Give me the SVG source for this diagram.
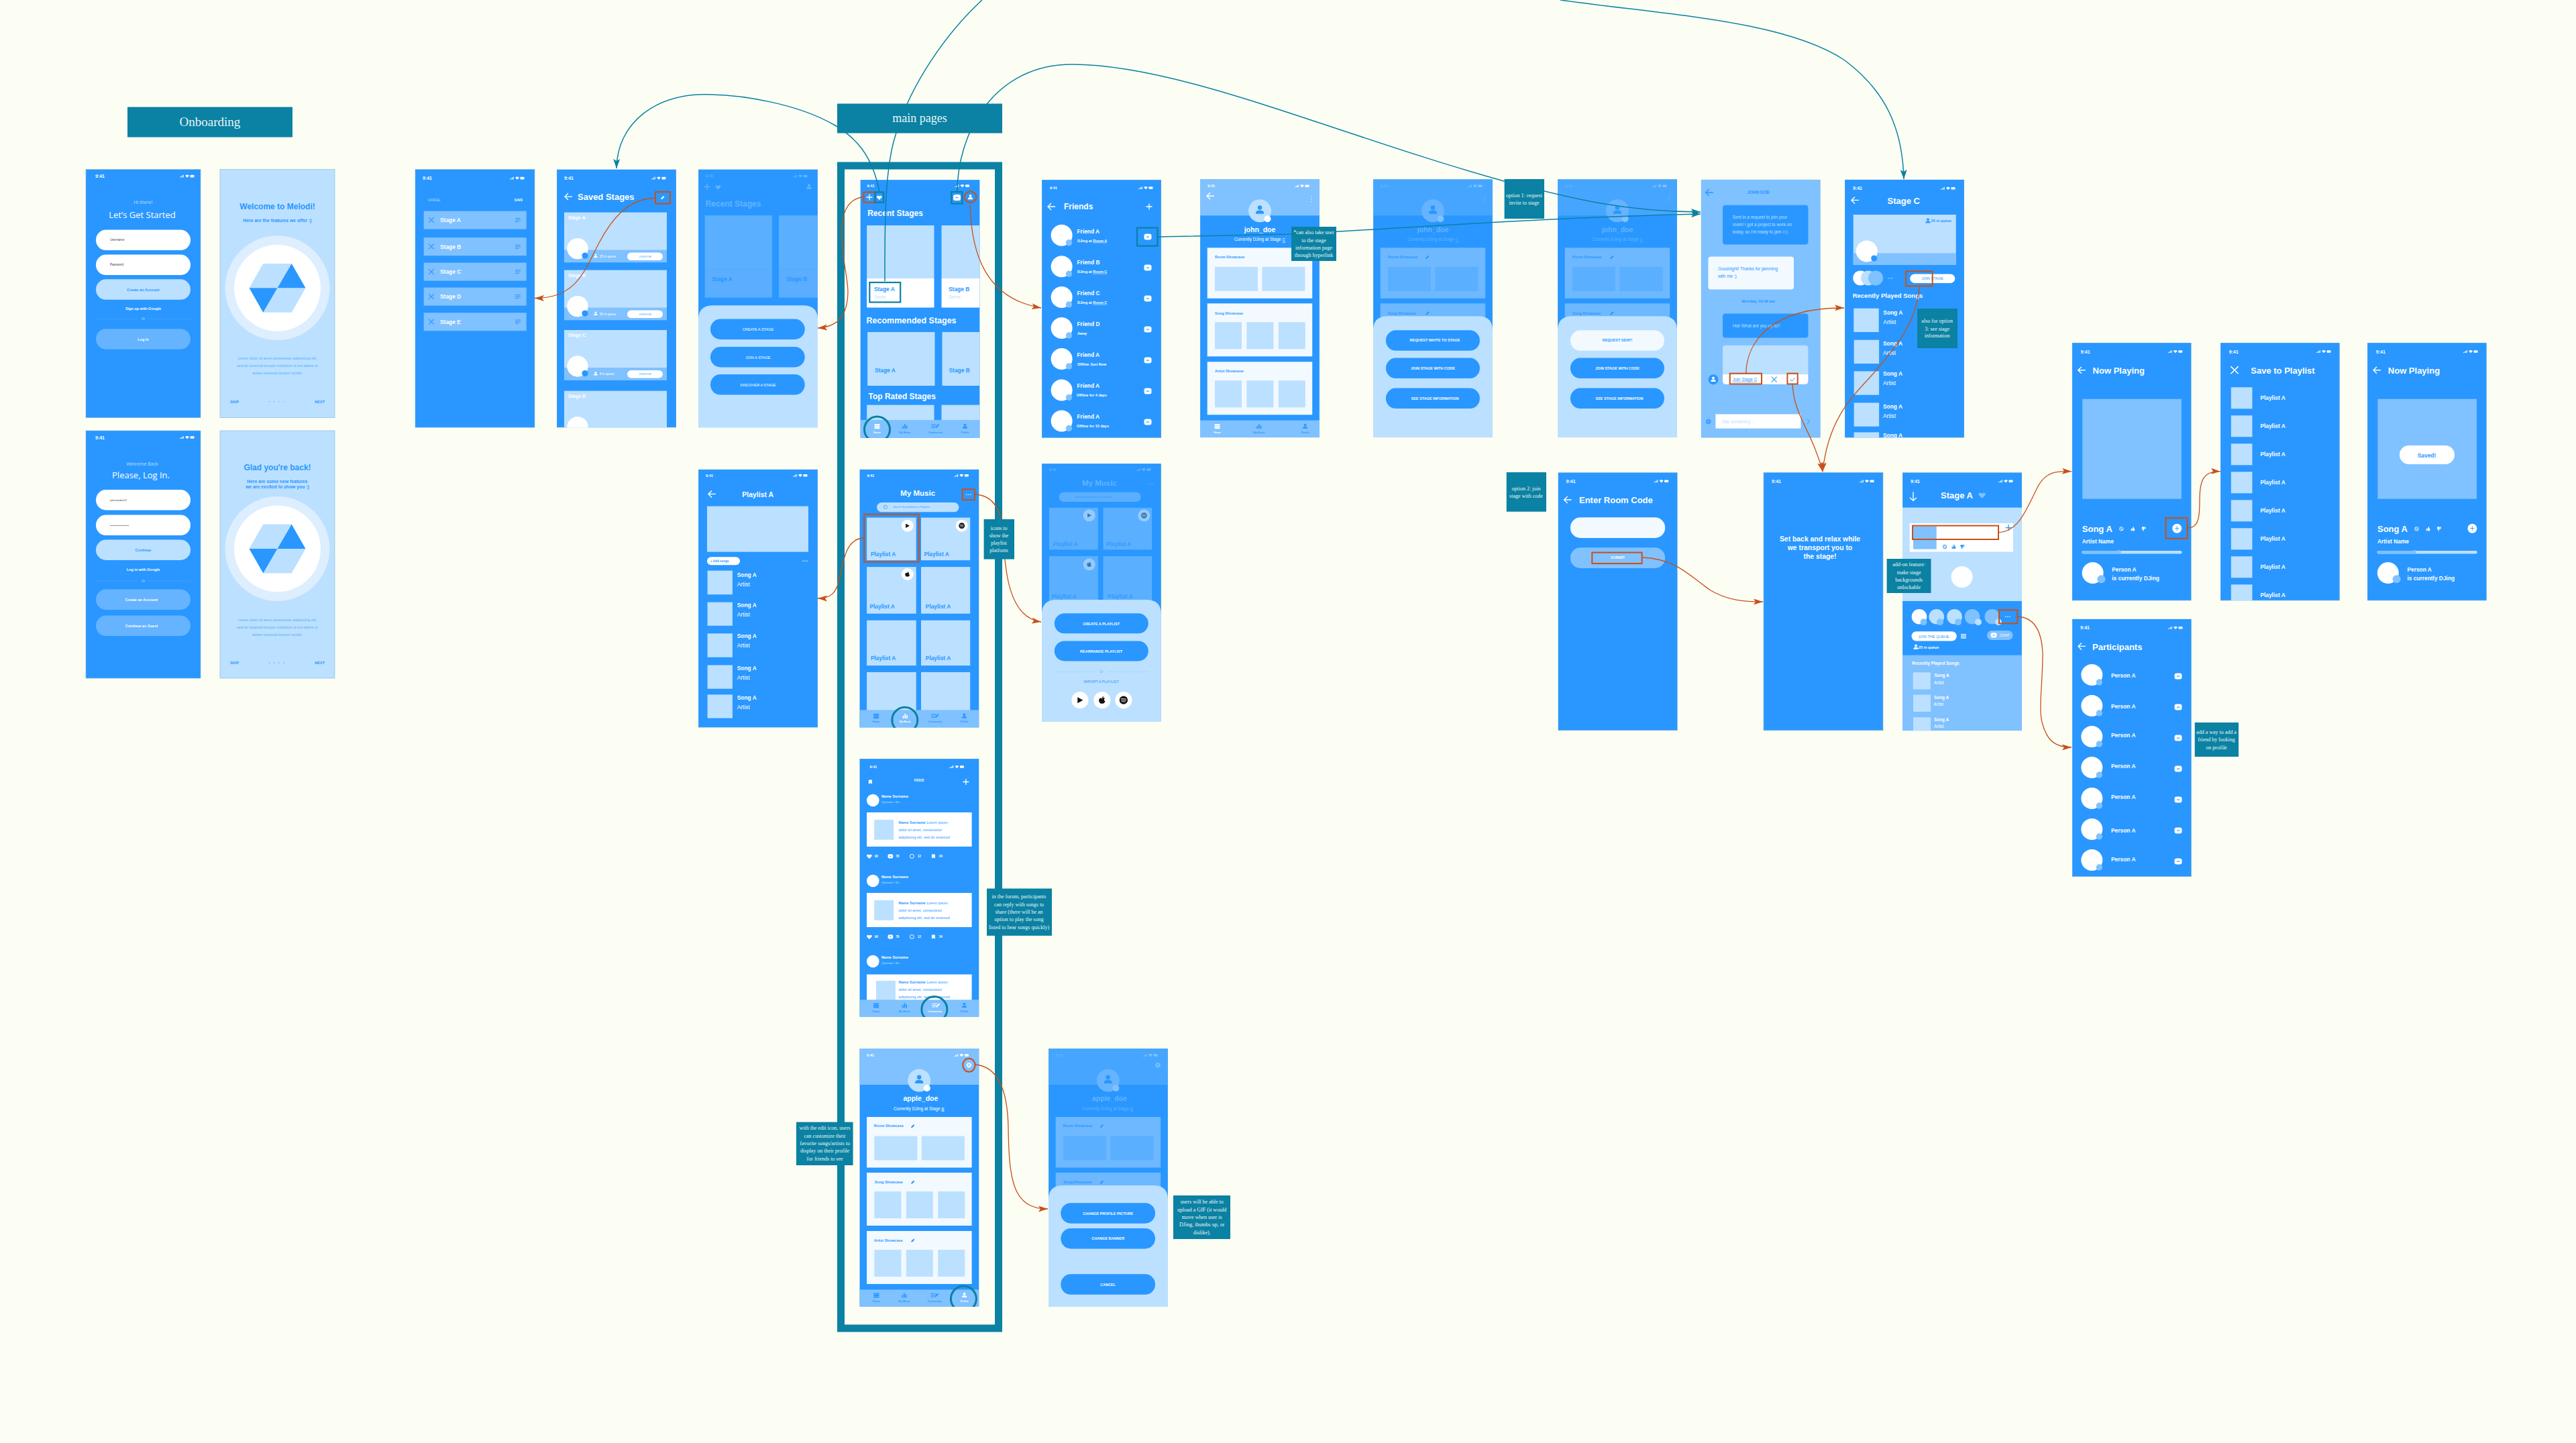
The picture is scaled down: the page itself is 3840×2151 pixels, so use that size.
<svg xmlns="http://www.w3.org/2000/svg" width="3840" height="2151" viewBox="0 0 3840 2151">
<style>
text{font-family:"Liberation Sans",Arial,sans-serif;dominant-baseline:central}
.s{fill:#2997FF}.b{fill:#2997FF}.l{fill:#BCE0FF}.m{fill:#80C1FF}.w{fill:#fff}.p{fill:#F2F9FF}.d{fill:#5BAFFF}.h{fill:#66B3FF}.td{fill:#63B3FF}.dh{fill:#46A6FF}.k{fill:#444}.t{fill:#0B81A3}
.scr{stroke:#7fb4d8;stroke-width:.6}
.a{font-weight:700}.c{text-anchor:middle}.e{text-anchor:end}
.f3{font-size:3.8px}.f4{font-size:4.6px}.f5{font-size:5.5px}.f6{font-size:6.4px}.f7{font-size:7px}.f8{font-size:8.4px}.f10{font-size:10.5px}.f12{font-size:12px}.f13{font-size:13px}
.o{font-family:"Open Sans",sans-serif}
.n{font-family:"Liberation Serif",serif;fill:#EAF6F6;font-size:8px;text-anchor:middle}
.rb{fill:none;stroke:#C8501A;stroke-width:2}.tb{fill:none;stroke:#0B81A3;stroke-width:2.2}.tc{fill:none;stroke:#0B81A3;stroke-width:3}
.con-r{fill:none;stroke:#C8501A;stroke-width:1.3}.con-t{fill:none;stroke:#0B81A3;stroke-width:1.5}
.dot{fill:none;stroke:#fff;stroke-opacity:.35;stroke-width:.6;stroke-dasharray:.8 .8}
.pa{fill:var(--a)}.pb{fill:var(--b)}
.lit{--a:#F2F9FF;--b:#BCE0FF}.dim{--a:#6DB8FF;--b:#5BAFFF}
</style>
<defs>
<clipPath id="cl"><rect width="178" height="385"/></clipPath>
<marker id="mr" markerUnits="userSpaceOnUse" markerWidth="15" markerHeight="10" refX="14" refY="5" orient="auto"><path d="M0 .5 14 5 0 9.5 3 5z" fill="#C8501A"/></marker>
<marker id="mt" markerUnits="userSpaceOnUse" markerWidth="15" markerHeight="11" refX="14" refY="5.5" orient="auto"><path d="M0 .5 14 5.5 0 10.5 3 5.5z" fill="#0B81A3"/></marker>
<g id="st" fill="currentColor"><path d="M0 5h1V4H0zM1.6 5h1V3h-1zM3.2 5h1V2h-1zM4.8 5h1V1h-1z"/><path d="M8 2.2Q11-.2 14 2.2L11 5.2z"/><rect x="15.5" y="1.2" width="6" height="3.6" rx=".8"/></g>
<path id="back" d="M5-5 0 0l5 5M0 0h11" fill="none" stroke="currentColor" stroke-width="1.4"/>
<path id="xx" d="M-4-4 4 4M4-4-4 4" fill="none" stroke="currentColor" stroke-width="1.1"/>
<path id="plus" d="M-4.5 0h9M0-4.5v9" fill="none" stroke="currentColor" stroke-width="1.3"/>
<g id="chat"><rect x="-5.5" y="-4.5" width="11" height="9" rx="3" fill="#fff"/><rect x="-2" y="-.5" width="4" height="1.2" fill="#2997FF"/></g>
<g id="per" fill="currentColor"><circle cy="-2.2" r="1.9"/><path d="M-3.5 3.2V2c0-1.4 2-1.9 3.5-1.9S3.5.6 3.5 2v1.2z"/></g>
<path id="heart" fill="currentColor" d="M0 3.5-3.5 0C-5-2-2-4 0-1.8 2-4 5-2 3.5 0z"/>
<path id="pen" fill="currentColor" d="M-2.5 2.5V1L1-2.5 2.5-1-1 2.5z"/>
<g id="gear"><circle r="2.2" fill="none" stroke="currentColor" stroke-width="1.6"/><circle r="3.6" fill="none" stroke="currentColor" stroke-width="1.1" stroke-dasharray="1.4 1.4"/></g>
<g id="dots" fill="currentColor"><circle cx="-3" r=".8"/><circle r=".8"/><circle cx="3" r=".8"/></g>
<g id="ham" fill="currentColor"><rect x="-4" y="-3" width="8" height="1"/><rect x="-4" y="-.5" width="8" height="1"/><rect x="-4" y="2" width="5.5" height="1"/></g>
<g id="nh" fill="currentColor"><rect x="-4" y="-3.4" width="8" height="2"/><rect x="-4" y="-.9" width="8" height="2"/><rect x="-4" y="1.6" width="8" height="2"/></g>
<g id="nm" fill="currentColor"><rect x="-3.6" y="-.5" width="1.8" height="4"/><rect x="-.9" y="-3.5" width="1.8" height="7"/><rect x="1.8" y="-1.4" width="1.8" height="4.9"/></g>
<g id="nc" fill="currentColor"><rect x="-6" y="-3" width="8" height="1"/><rect x="-6" y="-.7" width="6" height="1"/><rect x="-6" y="1.6" width="5" height="1"/><path d="M0 2.6V1.2L4.5-3.4 6-2 1.4 2.6z"/></g>
<g id="nbk" fill="currentColor"><path d="M-2.5-3h5V3.4L0 1.6-2.5 3.4z"/></g>
<g id="blk"><circle r="2.7" fill="none" stroke="currentColor" stroke-width="1"/><path d="M-2-2 2 2" stroke="currentColor" stroke-width="1"/></g>
<path id="up" fill="currentColor" d="M-2.8-.2h1.4v3.2h-1.4zM-.9-.2.6-3.4l.8.5-.3 2.3h1.6V3h-3.6z"/>
<path id="dn" fill="currentColor" d="M2.8.2H1.4v-3.2h1.4zM.9.2-.6 3.4l-.8-.5.3-2.3h-1.6V-3H.9z"/>
<g id="ipl"><circle r="9" fill="#fff"/><path d="M-2.6-3.2 3.2 0-2.6 3.2z" fill="#111"/></g>
<g id="isp"><circle r="9" fill="#fff"/><circle r="4.4" fill="#111"/><path d="M-3-1.3Q0-2.2 3-.9M-2.6.2Q0-.6 2.6.5M-2.2 1.6Q0 .9 2 1.9" stroke="#fff" stroke-width=".6" fill="none"/></g>
<g id="iap"><circle r="9" fill="#fff"/><path d="M0-1.8C-1-2.6-3.4-2.4-3.4.2-3.4 2-2 3.8-1 3.6-.4 3.5.4 3.5 1 3.6 2 3.8 3 2.2 3.3 1 1.7.3 1.8-1.5 3-2 2-3 .8-2.5 0-1.8zM0-2.4C0-3.4.7-4 1.5-4.1 1.6-3.1.9-2.4 0-2.4z" fill="#111"/></g>
<g id="hex"><path d="M-42 0-21.2-36.4H21.2L0 0zM0 0H42L21.2 36.4H-21.2z" fill="#BCE0FF"/><path d="M21.2-36.4 42 0H0zM-42 0H0L-21.2 36.4z" fill="#2997FF"/></g>
<g id="logo"><circle r="78" fill="#DDEEFF"/><circle r="64.5" fill="#fff"/><use href="#hex"/></g>
<g id="stc"><rect class="l" width="153" height="74.5"/><rect class="m" y="56" width="153" height="18.5"/><circle class="w" cx="20" cy="54" r="15.7"/><circle class="b" cx="31" cy="64.5" r="4.6"/><use href="#per" x="47" y="65" transform="translate(11.7 16.3) scale(.75)" color="#fff"/><rect class="w" x="94" y="60" width="53" height="11.5" rx="5.7"/></g>
<g id="pf"><rect class="pa" x="10.7" y="102" width="156.5" height="75.5"/><rect class="pa" x="10.7" y="185" width="156.5" height="79"/><rect class="pa" x="10.7" y="272" width="156.5" height="79"/><rect class="pb" x="22" y="130.5" width="64" height="36"/><rect class="pb" x="92.4" y="130.5" width="64" height="36"/><rect class="pb" x="22" y="213" width="40" height="40"/><rect class="pb" x="69.4" y="213" width="40" height="40"/><rect class="pb" x="116.8" y="213" width="40" height="40"/><rect class="pb" x="22" y="300" width="40" height="40"/><rect class="pb" x="69.4" y="300" width="40" height="40"/><rect class="pb" x="116.8" y="300" width="40" height="40"/></g>
<path id="sheet" class="l" d="M0 385V225Q0 204 22 204H156Q178 204 178 225V385z"/>
</defs>

<rect width="3840" height="2151" fill="#FCFEF4"/>
<rect id="frame-main" class="t" style="fill:none;stroke:#0B81A3;stroke-width:11" x="1253.5" y="247" width="235" height="1733"/>

<g id="screen-signup" transform="translate(128 252.6)">
<rect class="s scr" width="171" height="370"/>
<text x="14" y="10" class="w a f7">9:41</text><use href="#st" x="140" y="7" color="#fff"/>
<text x="85.5" y="48.7" class="l c o f7">Hi there!</text><text x="84" y="67" class="w c o f13">Let’s Get Started</text>
<rect class="w" x="15" y="90" width="141" height="30.5" rx="15"/><rect class="w" x="15" y="127" width="141" height="30.5" rx="15"/>
<text x="36" y="104.5" class="k f4">Username</text><text x="36" y="141.5" class="k f4">Password</text>
<rect class="l" x="15" y="163.7" width="141" height="30.5" rx="15"/><text x="85.5" y="179" class="b a c f5">Create an Account</text>
<text x="85.5" y="207" class="w a c f5">Sign up with Google</text>
<path class="dot" d="M15 223H78M94 223H156"/><text x="85.5" y="223" class="l c f4">Or</text>
<rect class="h" x="15" y="237.6" width="141" height="30.5" rx="15"/><text x="85.5" y="253" class="w a c f5">Log In</text>
</g>
<g id="screen-welcome" transform="translate(328 252.6)">
<rect class="l scr" width="171" height="370"/>
<text x="85.5" y="55" class="b a c f12">Welcome to Melodi!</text><text x="85.5" y="75.7" class="b a c" font-size="6.8">Here are the features we offer :)</text>
<use href="#logo" x="85.5" y="176.7"/>
<text x="85.5" y="281.7" class="b c f5" opacity=".7">Lorem dolor sit amet consectetur adipisicing elit,</text><text x="85.5" y="292.8" class="b c f5" opacity=".7">sed do eiusmod tempor incididunt ut ero labore et</text><text x="85.5" y="303.7" class="b c f5" opacity=".7">dolore eiusmod tempor incidid.</text>
<text x="15" y="346" class="b a f5">SKIP</text><text x="156" y="346" class="b a e f5">NEXT</text><path d="M73 346h1.4M80 346h1.4M87 346h1.4M94 346h1.4" stroke="#66B3FF" stroke-width="1.4"/>
</g>
<g id="screen-login" transform="translate(128 642)">
<rect class="s scr" width="171" height="369"/>
<text x="14" y="10" class="w a f7">9:41</text><use href="#st" x="140" y="7" color="#fff"/>
<text x="84" y="49" class="l c o f7">Welcome Back</text><text x="82" y="66.3" class="w c o f13">Please, Log In.</text>
<rect class="w" x="15" y="88" width="141" height="30.5" rx="15"/><rect class="w" x="15" y="125.6" width="141" height="30.5" rx="15"/>
<text x="36" y="103" class="k" font-size="4">johnsondoe21</text><text x="36" y="141" class="k" font-size="4">••••••••••••••••••••</text>
<rect class="l" x="15" y="162.5" width="141" height="30.5" rx="15"/><text x="85.5" y="178" class="b a c f5">Continue</text>
<text x="85.5" y="207" class="w a c f5">Log in with Google</text>
<path class="dot" d="M15 224H78M94 224H156"/><text x="85.5" y="224" class="l c f4">Or</text>
<rect class="h" x="15" y="236.5" width="141" height="30.5" rx="15"/><text x="83" y="252" class="w a c f5">Create an Account</text>
<rect class="h" x="15" y="275.6" width="141" height="30.5" rx="15"/><text x="83" y="291" class="w a c f5">Continue as Guest</text>
</g>
<g id="screen-glad" transform="translate(328 642)">
<rect class="l scr" width="171" height="369"/>
<text x="85.5" y="54.6" class="b a c f12">Glad you're back!</text><text x="85.5" y="75" class="b a c" font-size="6.8">Here are some new features</text><text x="85.5" y="83.5" class="b a c" font-size="6.8">we are excited to show you :)</text>
<use href="#logo" x="85.5" y="176"/>
<text x="85.5" y="281.7" class="b c f5" opacity=".7">Lorem dolor sit amet consectetur adipisicing elit,</text><text x="85.5" y="292.8" class="b c f5" opacity=".7">sed do eiusmod tempor incididunt ut ero labore et</text><text x="85.5" y="303.7" class="b c f5" opacity=".7">dolore eiusmod tempor incidid.</text>
<text x="15" y="346" class="b a f5">SKIP</text><text x="156" y="346" class="b a e f5">NEXT</text><path d="M73 346h1.4M80 346h1.4M87 346h1.4M94 346h1.4" stroke="#66B3FF" stroke-width="1.4"/>
</g>

<g id="screen-edit-stages" transform="translate(619 252.6)">
<rect class="s scr" width="178" height="384.5"/>
<text x="11" y="13" class="w a f7">9:41</text><use href="#st" x="141" y="10" color="#fff"/>
<text x="19" y="45.8" class="l f4">CANCEL</text><text x="160" y="45.8" class="w a e f4">SAVE</text>
<g id="rows"><rect class="m" x="12.7" y="62" width="153" height="27"/><rect class="m" x="12.7" y="101.5" width="153" height="27"/><rect class="m" x="12.7" y="139" width="153" height="27"/><rect class="m" x="12.7" y="176" width="153" height="27"/><rect class="m" x="12.7" y="213.6" width="153" height="27"/></g>
<use href="#xx" x="24" y="75.5" color="#2997FF"/><use href="#xx" x="24" y="115" color="#2997FF"/><use href="#xx" x="24" y="152.5" color="#2997FF"/><use href="#xx" x="24" y="189.5" color="#2997FF"/><use href="#xx" x="24" y="227" color="#2997FF"/>
<text x="37" y="75.5" class="w a f8">Stage A</text><text x="37" y="115" class="w a f8">Stage B</text><text x="37" y="152.5" class="w a f8">Stage C</text><text x="37" y="189.5" class="w a f8">Stage D</text><text x="37" y="227" class="w a f8">Stage E</text>
<use href="#ham" x="153" y="75.5" color="#2997FF"/><use href="#ham" x="153" y="115" color="#2997FF"/><use href="#ham" x="153" y="152.5" color="#2997FF"/><use href="#ham" x="153" y="189.5" color="#2997FF"/><use href="#ham" x="153" y="227" color="#2997FF"/>
</g>
<g id="screen-saved-stages" transform="translate(830 252.6)" clip-path="url(#cl)">
<rect class="s scr" width="178" height="384.5"/>
<text x="11" y="13" class="w a f7">9:41</text><use href="#st" x="141" y="10" color="#fff"/>
<use href="#back" x="12" y="40.5" color="#fff"/><text x="31" y="41" class="w a f13">Saved Stages</text>
<use href="#pen" x="158" y="42" color="#fff"/><rect class="rb" x="147" y="33.5" width="22" height="17.5"/>
<use href="#stc" x="11" y="64"/><use href="#stc" x="11" y="150"/><use href="#stc" x="11" y="239.4"/><use href="#stc" x="11" y="330"/>
<text x="17" y="72" class="w a f7">Stage A</text><text x="17" y="158" class="w a f7">Stage B</text><text x="17" y="247.4" class="w a f7">Stage C</text><text x="17" y="338" class="w a f7">Stage D</text>
<text x="64" y="130" class="w f4">25 in queue</text><text x="64" y="216" class="w f4">50 in queue</text><text x="64" y="305.4" class="w f4">8 in queue</text>
<text x="131.5" y="130" class="b c" font-size="3.2">JOIN ROOM</text><text x="131.5" y="216" class="b c" font-size="3.2">JOIN ROOM</text><text x="131.5" y="305.4" class="b c" font-size="3.2">JOIN ROOM</text>
</g>
<g id="screen-create-sheet" transform="translate(1041 252.5)" clip-path="url(#cl)">
<rect class="s scr" width="178" height="384.5"/>
<text x="11" y="9.8" class="td a f5">9:41</text><use href="#st" x="141" y="7" color="#63B3FF"/>
<use href="#plus" x="13" y="26" color="#63B3FF"/><use href="#heart" x="29.5" y="26.5" color="#63B3FF"/><use href="#per" x="165" y="26" color="#63B3FF"/>
<text x="10.7" y="51" class="td a f12">Recent Stages</text>
<rect class="d" x="9.7" y="68.6" width="100.3" height="79"/><rect class="h" x="9.7" y="147.6" width="100.3" height="43.5" fill-opacity=".8"/><rect class="d" x="120" y="68.6" width="58" height="79"/><rect class="h" x="120" y="147.6" width="58" height="43.5" fill-opacity=".8"/>
<text x="20" y="163" class="b a f8">Stage A</text><text x="20" y="175" class="h f6">Genre</text><text x="131" y="163" class="b a f8">Stage B</text><text x="131" y="175" class="h f6">Genre</text>
<path class="l" d="M0 385V224Q0 202.700 22 202.700H156Q178 202.700 178 224V385z"/>
<rect class="s" x="18" y="223" width="140.700" height="30.500" rx="15"/><rect class="s" x="18" y="264.500" width="140.700" height="30.500" rx="15"/><rect class="s" x="18" y="305.600" width="140.700" height="30.500" rx="15"/>
<text x="89" y="238.500" class="w c f5">CREATE A STAGE</text><text x="89" y="280" class="w c f5">JOIN A STAGE</text><text x="89" y="321" class="w c f5">DISCOVER A STAGE</text>
</g>

<g id="screen-home" transform="translate(1282.500 268)" clip-path="url(#cl)">
<rect class="s scr" width="178" height="384.500"/>
<text x="10" y="9" class="w a f5">9:41</text><use href="#st" x="141" y="6" color="#fff"/>
<use href="#plus" x="13.500" y="26" color="#fff"/><use href="#heart" x="28.300" y="26.500" color="#fff"/><use href="#chat" x="144" y="26.500"/><use href="#per" x="164" y="26" color="#fff"/>
<text x="10.700" y="49.600" class="w a f12">Recent Stages</text>
<rect class="l" x="9.700" y="68" width="100.300" height="79"/><rect class="w" x="9.700" y="147" width="100.300" height="43.500"/><rect class="l" x="121" y="68" width="57" height="79"/><rect class="w" x="121" y="147" width="57" height="43.500"/>
<text x="20.400" y="163" class="b a f8">Stage A</text><text x="20.400" y="174.500" class="l f6">Genre</text><text x="131.500" y="163" class="b a f8">Stage B</text><text x="131.500" y="174.500" class="l f6">Genre</text>
<text x="9" y="210" class="w a" font-size="12.500">Recommended Stages</text>
<rect class="l" x="10.700" y="227" width="100.300" height="80"/><rect class="l" x="122" y="227" width="56" height="80"/>
<text x="21.400" y="283.500" class="b a f8">Stage A</text><text x="132" y="283.500" class="b a f8">Stage B</text>
<text x="12" y="323" class="w a f12">Top Rated Stages</text>
<rect class="l" x="9.700" y="335.600" width="100.300" height="30"/><rect class="l" x="121" y="335.600" width="57" height="30"/>
<g transform="translate(0 358)"><rect class="m" width="178" height="27"/><use href="#nh" x="25" y="9.500" color="#fff"/><use href="#nm" x="66.300" y="9.500" color="#2997FF"/><use href="#nc" x="112" y="9.500" color="#2997FF"/><use href="#per" x="156" y="9.500" color="#2997FF"/><text x="25" y="19" class="w a c f3">Home</text><text x="66.300" y="19" class="b a c f3">My Music</text><text x="112" y="19" class="b a c f3">Community</text><text x="156" y="19" class="b a c f3">Profile</text></g>
<rect class="rb" x="5" y="18.400" width="17" height="15.300"/><rect class="tb" x="22" y="18.400" width="12.700" height="15.300"/><rect class="tb" x="135.700" y="18" width="16.300" height="17.500"/><ellipse class="rb" cx="164" cy="25.700" rx="9" ry="8.200"/>
<rect class="tb" x="13.800" y="153" width="45.900" height="29.500"/><circle class="tc" cx="25" cy="372" r="19"/>
</g>
<g id="screen-my-music" transform="translate(1281.400 699.700)" clip-path="url(#cl)">
<rect class="s scr" width="178" height="384.500"/>
<text x="11" y="9" class="w a f5">9:41</text><use href="#st" x="141" y="6" color="#fff"/>
<text x="86.800" y="35.700" class="w a c" font-size="11.500">My Music</text><use href="#dots" x="162.400" y="37.500" color="#fff"/>
<rect class="l" x="25.700" y="49.400" width="122.300" height="14.200" rx="7"/><circle cx="38.500" cy="56" r="2.600" fill="none" stroke="#2997FF" stroke-width=".8"/><text x="50" y="56.500" class="b f3">Search Song Names or Playlists</text>
<g id="tiles"><rect class="l" x="10.700" y="71.900" width="73.600" height="63.600"/><rect class="l" x="91.600" y="71.900" width="73.200" height="63.600"/><rect class="l" x="10.700" y="145.400" width="73.600" height="69.600"/><rect class="l" x="91.600" y="145.400" width="73.200" height="69.600"/><rect class="l" x="10.700" y="225" width="73.600" height="67.400"/><rect class="l" x="91.600" y="225" width="73.200" height="67.400"/><rect class="l" x="10.700" y="302.200" width="73.600" height="60"/><rect class="l" x="91.600" y="302.200" width="73.200" height="60"/></g>
<text x="16.500" y="126.700" class="b a f8">Playlist A</text><text x="96" y="126.700" class="b a f8">Playlist A</text><text x="15" y="204" class="b a f8">Playlist A</text><text x="98.400" y="204" class="b a f8">Playlist A</text><text x="16.500" y="281.400" class="b a f8">Playlist A</text><text x="98.400" y="281.400" class="b a f8">Playlist A</text>
<use href="#ipl" x="71.300" y="84"/><use href="#isp" x="152.300" y="84"/><use href="#iap" x="71.300" y="156.300"/>
<g transform="translate(0 358.700)"><rect class="m" width="178" height="26"/><use href="#nh" x="24.700" y="9" color="#2997FF"/><use href="#nm" x="67.900" y="9" color="#fff"/><use href="#nc" x="112.500" y="9" color="#2997FF"/><use href="#per" x="156" y="9" color="#2997FF"/><text x="24.700" y="18" class="b a c f3">Home</text><text x="67.900" y="18" class="w a c f3">My Music</text><text x="112.500" y="18" class="b a c f3">Community</text><text x="156" y="18" class="b a c f3">Profile</text></g>
<rect class="rb" x="153.200" y="29.600" width="18.400" height="15.900"/><rect class="rb" x="6.800" y="67" width="81.400" height="71"/><circle class="tc" cx="67.400" cy="373.600" r="19"/>
</g>
<g id="screen-feed" transform="translate(1281.400 1131)" clip-path="url(#cl)">
<rect class="s scr" width="178" height="384.500"/>
<text x="15" y="12" class="w a f5">9:41</text><use href="#st" x="134" y="9" color="#fff"/>
<use href="#nbk" x="16" y="34.500" color="#fff"/><text x="88.700" y="32.400" class="w a c f5">FEED</text><use href="#plus" x="158.500" y="34.500" color="#fff"/>
<g id="post-1"><circle class="w" cx="19.900" cy="62" r="9.300"/><text x="32.500" y="56" class="w a f5">Name Surname</text><text x="32.500" y="65" class="l f3">@johndoe • 40s</text><rect class="w" x="10.700" y="80" width="156.500" height="51"/><rect class="l" x="21.800" y="91" width="29" height="29.700"/><text x="58.200" y="95" class="b f5"><tspan class="a">Name Surname</tspan> Lorem ipsum</text><text x="58.200" y="105.900" class="b f5">dolor sit amet, consectetur</text><text x="58.200" y="116.800" class="b f5">adipisicing elit, sed do eiusmod</text>
<use href="#heart" x="14.500" y="145.400" color="#fff"/><text x="22.300" y="145.400" class="w a f4">90</text><use href="#chat" transform="translate(46 145.400) scale(.7)"/><text x="53.800" y="145.400" class="w a f4">78</text><circle cx="78" cy="145.400" r="3" fill="none" stroke="#fff" stroke-width="1"/><text x="86.300" y="145.400" class="w a f4">12</text><use href="#nbk" x="110" y="145.400" color="#fff"/><text x="118.300" y="145.400" class="w a f4">34</text></g>
<g id="post-2" transform="translate(0 120)"><circle class="w" cx="19.900" cy="62" r="9.300"/><text x="32.500" y="56" class="w a f5">Name Surname</text><text x="32.500" y="65" class="l f3">@johndoe • 40s</text><rect class="w" x="10.700" y="80" width="156.500" height="51"/><rect class="l" x="21.800" y="91" width="29" height="29.700"/><text x="58.200" y="95" class="b f5"><tspan class="a">Name Surname</tspan> Lorem ipsum</text><text x="58.200" y="105.900" class="b f5">dolor sit amet, consectetur</text><text x="58.200" y="116.800" class="b f5">adipisicing elit, sed do eiusmod</text>
<use href="#heart" x="14.500" y="145.400" color="#fff"/><text x="22.300" y="145.400" class="w a f4">90</text><use href="#chat" transform="translate(46 145.400) scale(.7)"/><text x="53.800" y="145.400" class="w a f4">78</text><circle cx="78" cy="145.400" r="3" fill="none" stroke="#fff" stroke-width="1"/><text x="86.300" y="145.400" class="w a f4">12</text><use href="#nbk" x="110" y="145.400" color="#fff"/><text x="118.300" y="145.400" class="w a f4">34</text></g>
<g id="post-3" transform="translate(0 240)"><circle class="w" cx="19.900" cy="62" r="9.300"/><text x="32.500" y="56" class="w a f5">Name Surname</text><text x="32.500" y="65" class="l f3">@johndoe • 40s</text><rect class="w" x="10.700" y="81.500" width="156.500" height="51"/><rect class="l" x="24.500" y="91" width="29" height="29.700"/><text x="58.200" y="93" class="b f5"><tspan class="a">Name Surname</tspan> Lorem ipsum</text><text x="58.200" y="104" class="b f5">dolor sit amet, consectetur</text><text x="58.200" y="115" class="b f5">adipisicing elit, sed do eiusmod</text></g>
<g transform="translate(0 359.300)"><rect class="m" width="178" height="26"/><use href="#nh" x="24.700" y="8.500" color="#2997FF"/><use href="#nm" x="67" y="8.500" color="#2997FF"/><use href="#nc" x="114" y="8.500" color="#fff"/><use href="#per" x="156" y="8.500" color="#2997FF"/><text x="24.700" y="17.500" class="b a c f3">Home</text><text x="67" y="17.500" class="b a c f3">My Music</text><text x="112" y="17.500" class="w a c f3">Community</text><text x="156" y="17.500" class="b a c f3">Profile</text></g>
<circle class="tc" cx="111.500" cy="373.600" r="19"/>
</g>
<g id="screen-profile" class="lit" transform="translate(1281.400 1563)" clip-path="url(#cl)">
<rect class="s scr" width="178" height="384.500"/><rect class="m" width="178" height="54"/>
<text x="10.700" y="9.800" class="w a f5">9:41</text><use href="#st" x="141" y="7" color="#fff"/>
<use href="#gear" x="163" y="24.700" color="#fff"/><circle class="l" cx="88.800" cy="47.600" r="17"/><use href="#per" transform="translate(88.800 46.500) scale(1.700)" color="#2997FF"/><circle class="w" cx="100.400" cy="59" r="5"/>
<text x="91" y="74" class="w a c f10">apple_doe</text><text x="88.400" y="89.500" class="w c f6">Currently DJing at Stage <tspan text-decoration="underline">B</tspan></text>
<use href="#pf"/>
<text x="21.400" y="115.400" class="b a f5">Room Showcase</text><use href="#pen" x="79.500" y="115.400" color="#2997FF"/><text x="22.300" y="199" class="b a f5">Song Showcase</text><use href="#pen" x="79.500" y="199" color="#2997FF"/><text x="21.400" y="286" class="b a f5">Artist Showcase</text><use href="#pen" x="79.500" y="286" color="#2997FF"/>
<g transform="translate(0 359.400)"><rect class="m" width="178" height="26"/><use href="#nh" x="25" y="8.500" color="#2997FF"/><use href="#nm" x="66.500" y="8.500" color="#2997FF"/><use href="#nc" x="112" y="8.500" color="#2997FF"/><use href="#per" x="156.200" y="8.500" color="#fff"/><text x="25" y="18" class="b a c f3">Home</text><text x="66.500" y="18" class="b a c f3">My Music</text><text x="111.600" y="18" class="b a c f3">Community</text><text x="156.200" y="18" class="w a c f3">Profile</text></g>
<ellipse class="rb" cx="163" cy="24.700" rx="9.200" ry="10"/><circle class="tc" cx="155" cy="373" r="19"/>
</g>
<g id="screen-profile-sheet" class="dim" transform="translate(1563 1563)" clip-path="url(#cl)">
<rect class="s scr" width="178" height="384.500"/><rect class="dh" width="178" height="54"/>
<text x="10.700" y="9.800" class="td a f5">9:41</text><use href="#st" x="141" y="7" color="#80C1FF"/><use href="#gear" x="163" y="24.700" color="#80C1FF"/>
<circle class="h" cx="88.800" cy="47.600" r="17"/><use href="#per" transform="translate(88.800 46.500) scale(1.700)" color="#2997FF"/><circle class="m" cx="100.400" cy="59" r="5"/>
<text x="91" y="74" class="td a c f10">apple_doe</text><text x="88.400" y="89.500" class="td c f6">Currently DJing at Stage <tspan text-decoration="underline">B</tspan></text>
<use href="#pf"/><text x="21.400" y="115.400" class="b a f5">Room Showcase</text><use href="#pen" x="79.500" y="115.400" color="#2997FF"/><text x="22.300" y="199" class="b a f5">Song Showcase</text><use href="#pen" x="79.500" y="199" color="#2997FF"/>
<use href="#sheet"/>
<rect class="s" x="18.300" y="230.200" width="140.700" height="30.500" rx="15"/><rect class="s" x="18.300" y="268" width="140.700" height="30.500" rx="15"/><rect class="s" x="18.300" y="336.300" width="140.700" height="30.500" rx="15"/>
<text x="88.700" y="245.500" class="w a c f5">CHANGE PROFILE PICTURE</text><text x="88.700" y="283" class="w a c f5">CHANGE BANNER</text><text x="88.700" y="351.500" class="w a c f5">CANCEL</text>
</g>
<g id="screen-playlist" transform="translate(1041 699.700)" clip-path="url(#cl)">
<rect class="s scr" width="178" height="384.500"/>
<text x="11" y="9" class="w a f5">9:41</text><use href="#st" x="141" y="6" color="#fff"/>
<use href="#back" x="15" y="36.700" color="#fff"/><text x="88.700" y="37.800" class="w a c f10">Playlist A</text>
<rect class="l" x="13" y="54.900" width="151" height="68"/>
<rect class="w" x="13" y="130.500" width="49" height="12.100" rx="6"/><text x="18" y="136.700" class="b a f4">+ Add songs</text><use href="#dots" x="159" y="136.600" color="#fff"/>
<rect class="l" x="13.600" y="150.900" width="37.300" height="35.600"/><rect class="l" x="13.600" y="198" width="37.300" height="35"/><rect class="l" x="13.600" y="244.600" width="37.300" height="35.400"/><rect class="l" x="13.600" y="291.800" width="37.300" height="35.200"/><rect class="l" x="13.600" y="335.700" width="37.300" height="35.100"/>
<text x="57.700" y="157" class="w a f8">Song A</text><text x="57.700" y="171" class="w f8">Artist</text><text x="57.700" y="202.400" class="w a f8">Song A</text><text x="57.700" y="216.700" class="w f8">Artist</text><text x="57.700" y="248" class="w a f8">Song A</text><text x="57.700" y="262" class="w f8">Artist</text><text x="57.700" y="296" class="w a f8">Song A</text><text x="57.700" y="310.500" class="w f8">Artist</text><text x="57.700" y="340.600" class="w a f8">Song A</text><text x="57.700" y="354.400" class="w f8">Artist</text>
</g>
<g id="screen-music-sheet" transform="translate(1552.900 691)" clip-path="url(#cl)">
<rect class="s scr" width="178" height="385"/>
<text x="11" y="9" class="td a f5">9:41</text><use href="#st" x="141" y="6" color="#63B3FF"/>
<text x="86" y="28.500" class="td a c" font-size="11.500">My Music</text><use href="#dots" x="162.400" y="30" color="#63B3FF"/>
<rect class="d" x="25.700" y="42.800" width="122.100" height="14.200" rx="7"/><text x="50" y="50" class="b f3">Search Song Names or Playlists</text>
<rect class="d" x="11" y="65.800" width="73" height="62.600"/><rect class="d" x="91.600" y="65.800" width="72.700" height="62.600"/><rect class="d" x="11" y="138" width="73" height="70"/><rect class="d" x="91.600" y="138" width="72.700" height="70"/>
<text x="16.500" y="119.600" class="s a f8" opacity=".8">Playlist A</text><text x="96" y="119.600" class="s a f8" opacity=".8">Playlist A</text><text x="14.500" y="197.500" class="s a f8" opacity=".8">Playlist A</text><text x="98.400" y="197.500" class="s a f8" opacity=".8">Playlist A</text>
<use href="#ipl" x="70.800" y="77.300" opacity=".35"/><use href="#isp" x="152.500" y="77.300" opacity=".35"/><use href="#iap" x="70.800" y="150.300" opacity=".35"/>
<path class="l" d="M0 385V225Q0 203 22 203H156Q178 203 178 225V385z"/>
<rect class="s" x="18.900" y="223.300" width="140" height="30" rx="15"/><rect class="s" x="18.900" y="264.400" width="140" height="30" rx="15"/>
<text x="88.700" y="238.500" class="w a c f5">CREATE A PLAYLIST</text><text x="88.700" y="279.500" class="w a c f5">REARRANGE PLAYLIST</text>
<path d="M18 310.500H80M98 310.500H160" stroke="#80C1FF" stroke-width=".6" stroke-dasharray=".8 .8"/><text x="89" y="310.500" class="h c f4">Or</text><text x="88.700" y="324.700" class="b c f5">IMPORT A PLAYLIST</text>
<use href="#ipl" transform="translate(57 352.700) scale(1.400)"/><use href="#iap" transform="translate(90 352.700) scale(1.400)"/><use href="#isp" transform="translate(122 352.700) scale(1.400)"/>
</g>

<g id="screen-friends" transform="translate(1553 268)" clip-path="url(#cl)">
<rect class="s scr" width="178" height="384.500"/>
<text x="12" y="12" class="w a f5">9:41</text><use href="#st" x="144" y="9" color="#fff"/>
<use href="#back" x="9" y="40" color="#fff"/><text x="33" y="40" class="w a f12">Friends</text><use href="#plus" x="160" y="40" color="#fff"/>
<g id="fr-av" class="w"><circle cx="29.600" cy="82.700" r="16"/><circle cx="29.600" cy="129.200" r="16"/><circle cx="29.600" cy="175" r="16"/><circle cx="29.600" cy="221" r="16"/><circle cx="29.600" cy="267" r="16"/><circle cx="29.600" cy="313.500" r="16"/><circle cx="29.600" cy="359.500" r="16"/></g>
<g class="m"><circle cx="40.500" cy="93.700" r="4.700"/><circle cx="40.500" cy="140.200" r="4.700"/><circle cx="40.500" cy="186" r="4.700"/><circle cx="40.500" cy="232" r="4.700"/><circle cx="40.500" cy="278" r="4.700"/><circle cx="40.500" cy="324.500" r="4.700"/><circle cx="40.500" cy="370.500" r="4.700"/></g>
<text x="52.500" y="77" class="w a f8">Friend A</text><text x="53" y="90.600" class="w a f5">DJing at <tspan text-decoration="underline">Room A</tspan></text>
<text x="52.500" y="123" class="w a f8">Friend B</text><text x="53" y="136.800" class="w a f5">DJing at <tspan text-decoration="underline">Room C</tspan></text>
<text x="52.500" y="169" class="w a f8">Friend C</text><text x="53" y="182.800" class="w a f5">DJing at <tspan text-decoration="underline">Room C</tspan></text>
<text x="52.500" y="215" class="w a f8">Friend D</text><text x="53" y="229" class="w a f5">Away</text>
<text x="52.500" y="261" class="w a f8">Friend A</text><text x="53" y="275" class="w a f5">Offline Just Now</text>
<text x="52.500" y="307" class="w a f8">Friend A</text><text x="52" y="321" class="w a f5">Offline for 4 days</text>
<text x="52.500" y="353" class="w a f8">Friend A</text><text x="52" y="367" class="w a f5">Offline for 15 days</text>
<use href="#chat" x="158" y="85"/><use href="#chat" x="158" y="131"/><use href="#chat" x="158" y="177"/><use href="#chat" x="158" y="223"/><use href="#chat" x="158" y="269"/><use href="#chat" x="158" y="315"/><use href="#chat" x="158" y="361"/>
<rect class="tb" x="142" y="71.600" width="30.500" height="27"/>
</g>
<g id="screen-john" class="lit" transform="translate(1789 267.300)" clip-path="url(#cl)">
<rect class="s scr" width="178" height="384.500"/><rect class="m" width="178" height="54"/>
<text x="11" y="9.700" class="w a f5">9:41</text><use href="#st" x="141" y="7" color="#fff"/>
<use href="#back" x="10" y="25" color="#fff"/><path d="M166 25v.1M166 29v.1M166 33v.1" stroke="#fff" stroke-width="1.300" stroke-linecap="round"/>
<circle class="l" cx="89" cy="47" r="17"/><use href="#per" transform="translate(89 46) scale(1.700)" color="#2997FF"/><circle class="w" cx="100.500" cy="59" r="5"/>
<text x="89" y="74.300" class="w a c f10">john_doe</text><text x="89" y="89.700" class="w c f6">Currently DJing at Stage <tspan text-decoration="underline">C</tspan></text>
<use href="#pf"/>
<text x="22" y="116" class="b a f5">Room Showcase</text><text x="22" y="199.500" class="b a f5">Song Showcase</text><text x="22" y="286" class="b a f5">Artist Showcase</text>
<g transform="translate(0 359.300)"><rect class="m" width="178" height="26"/><use href="#nh" x="25.500" y="9" color="#fff"/><use href="#nm" x="87.800" y="9" color="#2997FF"/><use href="#per" x="156.600" y="9" color="#2997FF"/><text x="25.500" y="18" class="w a c f3">Home</text><text x="87.800" y="18" class="b a c f3">My Music</text><text x="156.600" y="18" class="b a c f3">Profile</text></g>
</g>
<g id="screen-john-request" class="dim" transform="translate(2047 267.300)" clip-path="url(#cl)">
<rect class="s scr" width="178" height="384.500"/><rect class="dh" width="178" height="54"/>
<text x="11" y="9.700" class="td a f5">9:41</text><use href="#st" x="141" y="7" color="#80C1FF"/><path d="M166 25v.1M166 29v.1M166 33v.1" stroke="#80C1FF" stroke-width="1.300" stroke-linecap="round"/>
<circle class="h" cx="89" cy="47" r="17"/><use href="#per" transform="translate(89 46) scale(1.700)" color="#2997FF"/><circle class="m" cx="100.500" cy="59" r="5"/>
<text x="89" y="74.300" class="td a c f10">john_doe</text><text x="89" y="89.700" class="td c f6">Currently DJing at Stage <tspan text-decoration="underline">C</tspan></text>
<use href="#pf"/><text x="22" y="116" class="b a f5">Room Showcase</text><use href="#pen" x="81" y="116" color="#2997FF"/><text x="22" y="199.500" class="b a f5">Song Showcase</text><use href="#pen" x="81" y="199.500" color="#2997FF"/>
<use href="#sheet"/>
<rect class="s" x="18.900" y="225" width="140" height="30.500" rx="15"/><rect class="s" x="18.900" y="266.300" width="140" height="30.500" rx="15"/><rect class="s" x="18.900" y="311.300" width="140" height="30.500" rx="15"/>
<text x="92" y="240" class="w a c f5">REQUEST INVITE TO STAGE</text><text x="89" y="281.500" class="w a c f5">JOIN STAGE WITH CODE</text><text x="92" y="326.500" class="w a c f5">SEE STAGE INFORMATION</text>
</g>
<g id="screen-john-sent" class="dim" transform="translate(2322 267.300)" clip-path="url(#cl)">
<rect class="s scr" width="178" height="384.500"/><rect class="dh" width="178" height="54"/>
<text x="11" y="9.700" class="td a f5">9:41</text><use href="#st" x="141" y="7" color="#80C1FF"/><path d="M166 25v.1M166 29v.1M166 33v.1" stroke="#80C1FF" stroke-width="1.300" stroke-linecap="round"/>
<circle class="h" cx="89" cy="47" r="17"/><use href="#per" transform="translate(89 46) scale(1.700)" color="#2997FF"/><circle class="m" cx="100.500" cy="59" r="5"/>
<text x="89" y="74.300" class="td a c f10">john_doe</text><text x="89" y="89.700" class="td c f6">Currently DJing at Stage <tspan text-decoration="underline">C</tspan></text>
<use href="#pf"/><text x="22" y="116" class="b a f5">Room Showcase</text><use href="#pen" x="81" y="116" color="#2997FF"/><text x="22" y="199.500" class="b a f5">Song Showcase</text><use href="#pen" x="81" y="199.500" color="#2997FF"/>
<use href="#sheet"/>
<rect class="p" x="18.900" y="225" width="140" height="30.500" rx="15"/><rect class="s" x="18.900" y="266.300" width="140" height="30.500" rx="15"/><rect class="s" x="18.900" y="311.300" width="140" height="30.500" rx="15"/>
<text x="89" y="240" class="b a c f5">REQUEST SENT!</text><text x="89" y="281.500" class="w a c f5">JOIN STAGE WITH CODE</text><text x="92" y="326.500" class="w a c f5">SEE STAGE INFORMATION</text>
</g>
<g id="screen-chat" transform="translate(2535.700 267.700)" clip-path="url(#cl)">
<rect class="m scr" width="178" height="384.500"/>
<use href="#back" x="7" y="19.300" color="#2997FF"/><text x="85.500" y="19.300" class="b a c f6">JOHN DOE</text>
<rect class="s" x="32.300" y="38" width="127.400" height="58.700" rx="4"/><text x="47" y="56.300" class="l f6">Sent in a request to join your</text><text x="47" y="67.300" class="l f6">room! I got a project to work on</text><text x="47" y="78" class="l f6">today, so I'm ready to jam &gt;:)</text>
<rect class="p" x="10.700" y="114.700" width="127.600" height="49" rx="4"/><text x="25.300" y="132.700" class="b f6">Goodnight! Thanks for jamming</text><text x="25.300" y="143.700" class="b f6">with me :)</text>
<text x="85.300" y="181" class="b a c" font-size="5.800">Monday, 10:40 am</text>
<rect class="s" x="32.300" y="199.700" width="127.400" height="36" rx="4"/><text x="47" y="217.700" class="l f6">Hia! What are you up to?</text>
<path class="w" d="M32.300 290H159.700V300Q159.700 305 155 305H37Q32.300 305 32.300 300z"/><path class="l" d="M32.300 290V251Q32.300 247 37 247H155Q159.700 247 159.700 251V290z"/>
<text x="47" y="297.700" class="b f6" text-decoration="underline">Join Stage C</text><use href="#xx" x="109" y="298" color="#2997FF"/><path d="M132.500 297.500 135.500 300.500 140 295.500" fill="none" stroke="#2997FF" stroke-width="1"/>
<circle class="s" cx="18.300" cy="298" r="7.500"/><use href="#per" x="18.300" y="298" color="#fff"/>
<rect class="rb" x="43" y="289" width="47.300" height="15.700"/><rect class="rb" x="128.700" y="289" width="15.300" height="15.700"/>
<use href="#gear" x="11" y="360.700" color="#2997FF"/><rect class="w" x="21.700" y="349.700" width="127" height="21.300"/><text x="31" y="360.500" class="l f6">Say something ...</text><path d="M158 357 162 360.700 158 364.500" fill="none" stroke="#2997FF" stroke-width="1"/>
</g>
<g id="screen-stage-c" transform="translate(2750 267.700)" clip-path="url(#cl)">
<rect class="s scr" width="178" height="384.500"/>
<text x="12" y="12.700" class="w a f7">9:41</text><use href="#st" x="143" y="10" color="#fff"/>
<use href="#back" x="10" y="30.700" color="#fff"/><text x="87.700" y="31.700" class="w a c f13">Stage C</text>
<rect class="l" x="12.700" y="52.300" width="153" height="75"/><rect class="m" x="12.700" y="109.700" width="153" height="17.600"/>
<circle class="w" cx="32.700" cy="106.700" r="16"/><circle class="s" cx="43.700" cy="117.300" r="4.500"/><text x="159" y="61.700" class="b a e f5">25 in queue</text><use href="#per" x="124" y="61.700" color="#2997FF"/>
<circle class="w" cx="23.300" cy="146.700" r="11"/><circle class="l" cx="35" cy="146.700" r="11"/><circle class="m" cx="46" cy="146.700" r="11"/><use href="#dots" x="68" y="147" color="#BCE0FF"/>
<rect class="w" x="97.300" y="140.700" width="67" height="13.600" rx="6.800"/><text x="130.700" y="147.500" class="b c f5">JOIN STAGE</text><rect class="rb" x="91" y="136.700" width="39.700" height="22"/>
<text x="11.700" y="173.300" class="w a" font-size="9.500">Recently Played Songs</text>
<rect class="l" x="13.300" y="192" width="37.400" height="35.300"/><rect class="l" x="13.700" y="239" width="37.400" height="35.300"/><rect class="l" x="13.700" y="285.700" width="37.400" height="35.300"/><rect class="l" x="13.700" y="332.700" width="37.400" height="35.300"/><rect class="l" x="13.700" y="376.700" width="37.400" height="12"/>
<text x="57.300" y="198" class="w a f8">Song A</text><text x="57.300" y="212" class="w f8">Artist</text><text x="57" y="244" class="w a f8">Song A</text><text x="57" y="258" class="w f8">Artist</text><text x="57" y="289.700" class="w a f8">Song A</text><text x="57" y="303.700" class="w f8">Artist</text><text x="57" y="338" class="w a f8">Song A</text><text x="57" y="352" class="w f8">Artist</text><text x="57" y="381" class="w a f8">Song A</text>
</g>
<g id="screen-room-code" transform="translate(2322.600 704.300)" clip-path="url(#cl)">
<rect class="s scr" width="178" height="384.500"/>
<text x="12" y="13" class="w a f7">9:41</text><use href="#st" x="143" y="10" color="#fff"/>
<use href="#back" x="9" y="40.700" color="#fff"/><text x="31.400" y="41.700" class="w a f13">Enter Room Code</text>
<rect class="p" x="18.300" y="67" width="141.200" height="30.700" rx="15"/><rect class="m" x="18.300" y="112" width="141.200" height="30.700" rx="15"/>
<text x="89" y="127" class="w a c f5">SUBMIT</text><rect class="rb" x="50.700" y="119.300" width="74.300" height="16.400"/>
</g>
<g id="screen-transport" transform="translate(2629 704.300)">
<rect class="s scr" width="178" height="384.500"/>
<text x="12" y="13" class="w a f7">9:41</text><use href="#st" x="143" y="10" color="#fff"/>
<text x="84" y="99" class="w a c" font-size="10.400">Set back and relax while</text><text x="84" y="112.300" class="w a c" font-size="10.400">we transport you to</text><text x="84" y="125.700" class="w a c" font-size="10.400">the stage!</text>
</g>
<g id="screen-stage-a" transform="translate(2836 704.300)" clip-path="url(#cl)">
<rect class="s scr" width="178" height="384.500"/>
<text x="12" y="13" class="w a f7">9:41</text><use href="#st" x="143" y="10" color="#fff"/>
<path d="M16 29v13M11 37.500 16 42 21 37.500" fill="none" stroke="#fff" stroke-width="1.400"/><text x="81" y="34.300" class="w a c f13">Stage A</text><use href="#heart" transform="translate(118.600 34) scale(1.300)" color="#80C1FF"/>
<rect class="l" y="52.300" width="178" height="139.400"/>
<rect class="w" x="10.700" y="75.700" width="154.300" height="42.600"/><rect class="m" x="16" y="80.300" width="34.700" height="34"/><use href="#plus" x="158" y="82.300" color="#2997FF"/>
<use href="#blk" x="63" y="110.700" color="#2997FF"/><use href="#up" x="76.400" y="110.700" color="#2997FF"/><use href="#dn" x="89.300" y="110.700" color="#2997FF"/>
<rect class="rb" x="15" y="79.300" width="128" height="20.400"/>
<circle class="w" cx="88.600" cy="155.700" r="16"/>
<circle class="w" cx="25" cy="215" r="11.300"/><circle class="l" cx="50.700" cy="215" r="11.300"/><circle class="l" cx="77.500" cy="215" r="11.300"/><circle class="m" cx="104" cy="215" r="11.300"/><circle class="m" cx="133.800" cy="215" r="11.300"/>
<circle class="m" cx="31.500" cy="223" r="5"/><circle class="m" cx="56" cy="223" r="5"/><circle class="m" cx="83" cy="223" r="5"/><circle class="l" cx="113" cy="223" r="5"/><circle class="l" cx="143" cy="223" r="5"/>
<use href="#dots" x="156.800" y="215" color="#fff"/><rect class="rb" x="144" y="205" width="27.400" height="20"/>
<rect class="w" x="13.600" y="237" width="67.100" height="14.300" rx="7"/><text x="46.500" y="244.300" class="b c f5">JOIN THE QUEUE</text><use href="#nh" x="91" y="244" color="#BCE0FF"/>
<rect class="m" x="126" y="235.700" width="38.600" height="14" rx="7"/><use href="#chat" transform="translate(136 242.500) scale(.8)"/><text x="145" y="242.700" class="w f5">CHAT</text>
<use href="#per" x="20" y="260.300" color="#fff"/><text x="24" y="260.300" class="w a f5">25 in queue</text>
<rect class="m" y="272.300" width="178" height="113"/>
<text x="14.300" y="284.700" class="w a f6">Recently Played Songs</text>
<rect class="l" x="15.700" y="298" width="26.100" height="25.300"/><rect class="l" x="16" y="331.300" width="26.100" height="25.400"/><rect class="l" x="16" y="365" width="26.100" height="22"/>
<text x="47.500" y="302.700" class="w a f6">Song A</text><text x="47" y="313" class="w f6">Artist</text><text x="47" y="335" class="w a f6">Song A</text><text x="46.500" y="345.700" class="w f6">Artist</text><text x="47" y="368" class="w a f6">Song A</text><text x="47" y="378" class="w f6">Artist</text>
</g>
<g id="screen-now-playing" transform="translate(3088.800 511)" clip-path="url(#cl)">
<rect class="s scr" width="177.500" height="384"/>
<text x="12.800" y="13" class="w a f7">9:41</text><use href="#st" x="143" y="10" color="#fff"/>
<use href="#back" x="9" y="40.700" color="#fff"/><text x="30.800" y="41.700" class="w a f13">Now Playing</text>
<rect class="m" x="15.400" y="83.700" width="147.600" height="149"/>
<text x="15" y="277.700" class="w a f13">Song A</text><use href="#blk" x="73.500" y="277.300" color="#fff"/><use href="#up" x="90.600" y="277.300" color="#fff"/><use href="#dn" x="106.800" y="277.300" color="#fff"/>
<circle class="w" cx="156.400" cy="276.700" r="7"/><use href="#plus" transform="translate(156.400 276.700) scale(.7)" color="#2997FF"/><rect class="rb" x="139.700" y="261" width="32.100" height="30.700"/>
<text x="15" y="295.700" class="w a f8">Artist Name</text>
<rect class="l" x="14.500" y="310" width="149.200" height="4.400" rx="2.200"/><rect class="m" x="14.500" y="310" width="55.500" height="4.400" rx="2.200"/><circle class="m" cx="70" cy="312" r="3"/>
<circle class="w" cx="30.800" cy="343" r="16"/><circle class="m" cx="43.600" cy="352.300" r="6"/>
<text x="59.400" y="338" class="w a f8">Person A</text><text x="59.400" y="351.300" class="w a f8">is currently DJing</text>
</g>
<g id="screen-save-playlist" transform="translate(3310 511)" clip-path="url(#cl)">
<rect class="s scr" width="177.500" height="384"/>
<text x="12.800" y="13" class="w a f7">9:41</text><use href="#st" x="143" y="10" color="#fff"/>
<use href="#xx" transform="translate(21 40.700) scale(1.400)" color="#fff"/><text x="45.300" y="41.700" class="w a f13">Save to Playlist</text>
<rect class="l" x="15.800" y="66.300" width="31.600" height="32"/><rect class="l" x="15.800" y="108.300" width="31.600" height="32"/><rect class="l" x="15.800" y="150.300" width="31.600" height="32"/><rect class="l" x="15.800" y="192.300" width="31.600" height="32"/><rect class="l" x="15.800" y="234.300" width="31.600" height="32"/><rect class="l" x="15.800" y="276.300" width="31.600" height="32"/><rect class="l" x="15.800" y="318.300" width="31.600" height="32"/><rect class="l" x="15.800" y="360.300" width="31.600" height="24"/>
<text x="59.400" y="82.300" class="w a f8">Playlist A</text><text x="59.400" y="124.300" class="w a f8">Playlist A</text><text x="59.400" y="166.300" class="w a f8">Playlist A</text><text x="59.400" y="208.300" class="w a f8">Playlist A</text><text x="59.400" y="250.300" class="w a f8">Playlist A</text><text x="59.400" y="292.300" class="w a f8">Playlist A</text><text x="59.400" y="334.300" class="w a f8">Playlist A</text><text x="59.400" y="376.300" class="w a f8">Playlist A</text>
</g>
<g id="screen-now-playing-saved" transform="translate(3529 511)" clip-path="url(#cl)">
<rect class="s scr" width="177.500" height="384"/>
<text x="12.800" y="13" class="w a f7">9:41</text><use href="#st" x="143" y="10" color="#fff"/>
<use href="#back" x="9" y="40.700" color="#fff"/><text x="30.800" y="41.700" class="w a f13">Now Playing</text>
<rect class="m" x="15.400" y="83.700" width="147.600" height="149"/>
<rect class="w" x="47.900" y="153" width="82.100" height="28" rx="14"/><text x="88.500" y="167.500" class="b a c f8">Saved!</text>
<text x="15" y="277.700" class="w a f13">Song A</text><use href="#blk" x="73.500" y="277.300" color="#fff"/><use href="#up" x="90.600" y="277.300" color="#fff"/><use href="#dn" x="106.800" y="277.300" color="#fff"/>
<circle class="w" cx="156.400" cy="276.700" r="7"/><use href="#plus" transform="translate(156.400 276.700) scale(.7)" color="#2997FF"/>
<text x="15" y="295.700" class="w a f8">Artist Name</text>
<rect class="l" x="14.500" y="310" width="149.200" height="4.400" rx="2.200"/><rect class="m" x="14.500" y="310" width="55.500" height="4.400" rx="2.200"/><circle class="m" cx="70" cy="312" r="3"/>
<circle class="w" cx="30.800" cy="343" r="16"/><circle class="m" cx="43.600" cy="352.300" r="6"/>
<text x="59.400" y="338" class="w a f8">Person A</text><text x="59.400" y="351.300" class="w a f8">is currently DJing</text>
</g>
<g id="screen-participants" transform="translate(3089 922.700)" clip-path="url(#cl)">
<rect class="s scr" width="177.500" height="384"/>
<text x="12" y="12.700" class="w a f7">9:41</text><use href="#st" x="143" y="10" color="#fff"/>
<use href="#back" x="9" y="40.700" color="#fff"/><text x="30" y="41.700" class="w a f13">Participants</text>
<g class="w"><circle cx="29.300" cy="83.300" r="16"/><circle cx="29.300" cy="129.300" r="16"/><circle cx="29.300" cy="175.300" r="16"/><circle cx="29.300" cy="221.300" r="16"/><circle cx="29.300" cy="267.300" r="16"/><circle cx="29.300" cy="313.300" r="16"/><circle cx="29.300" cy="359.300" r="16"/></g>
<g class="m"><circle cx="40.300" cy="94.300" r="4.700"/><circle cx="40.300" cy="140.300" r="4.700"/><circle cx="40.300" cy="186.300" r="4.700"/><circle cx="40.300" cy="232.300" r="4.700"/><circle cx="40.300" cy="278.300" r="4.700"/><circle cx="40.300" cy="324.300" r="4.700"/><circle cx="40.300" cy="370.300" r="4.700"/></g>
<text x="58" y="84.300" class="w a f8">Person A</text><text x="58" y="130.300" class="w a f8">Person A</text><text x="58" y="173" class="w a f8">Person A</text><text x="58" y="219" class="w a f8">Person A</text><text x="58" y="265" class="w a f8">Person A</text><text x="58" y="315.300" class="w a f8">Person A</text><text x="58" y="358" class="w a f8">Person A</text>
<use href="#chat" x="158" y="85.300"/><use href="#chat" x="158" y="131.300"/><use href="#chat" x="158" y="177.300"/><use href="#chat" x="158" y="223.300"/><use href="#chat" x="158" y="269.300"/><use href="#chat" x="158" y="315.300"/><use href="#chat" x="158" y="361.300"/>
</g>

<g id="connectors">
<path class="con-r" marker-end="url(#mr)" d="M977 295.500C935 295 910 330 893 362 872 402 860 445 797 444.500"/>
<path class="con-t" marker-end="url(#mt)" d="M1311 286C1300 230 1275 205 1245 187 1190 155 1110 142 1060 141 975 138 920 185 919 251"/>
<path class="con-t" d="M1319 419C1319 340 1318 250 1336 198 1358 125 1410 50 1464 0"/>
<path class="con-t" marker-end="url(#mt)" d="M2326 0C2480 22 2660 30 2750 90 2810 135 2836 190 2838 267"/>
<path class="con-t" marker-end="url(#mt)" d="M1427 286C1427 200 1480 96 1598 96 1760 96 1990 200 2242 270 2340 295 2420 316 2535 316"/>
<path class="con-t" marker-end="url(#mt)" d="M1725 353 1923 349C2100 340 2280 325 2535 319"/>
<path class="con-r" marker-end="url(#mr)" d="M1288 293.500C1262 296 1253 320 1255 356 1257 395 1264 415 1264 436 1263 470 1250 487 1219 489"/>
<path class="con-r" marker-end="url(#mr)" d="M1446 305C1448 380 1470 445 1552 459"/>
<path class="con-r" marker-end="url(#mr)" d="M1288 802C1262 802 1257 835 1252 860 1247 885 1238 892 1219 892"/>
<path class="con-r" marker-end="url(#mr)" d="M1453 737C1480 738 1492 760 1495 790 1498 830 1497 920 1552 927"/>
<path class="con-r" marker-end="url(#mr)" d="M1454 1587C1490 1590 1502 1630 1503 1680 1504 1760 1510 1802 1562 1802"/>
<path class="con-r" marker-end="url(#mr)" d="M2602.700 556C2604 510 2640 458 2749 459"/>
<path class="con-r" marker-end="url(#mr)" d="M2672 572C2674 620 2700 640 2717 703"/>
<path class="con-r" marker-end="url(#mr)" d="M2861 427C2858 480 2825 520 2787 563 2755 597 2725 630 2717 703"/>
<path class="con-r" marker-end="url(#mr)" d="M2448 831C2500 833 2520 860 2550 880 2575 895 2600 897 2628 897"/>
<path class="con-r" marker-end="url(#mr)" d="M2979 793.700C3010 792 3020 760 3038 725 3050 703 3065 702 3088 702.700"/>
<path class="con-r" marker-end="url(#mr)" d="M3261 787C3278 787 3279 770 3279 745 3279 715 3285 702 3310 702.700"/>
<path class="con-r" marker-end="url(#mr)" d="M3007 919C3035 920 3044 945 3045 975 3045 1020 3038 1060 3045 1080 3052 1105 3065 1114 3088 1114"/>
</g>

<g id="note-onboarding"><rect class="t" x="190" y="159.500" width="246" height="45"/><text x="313" y="181.500" class="n" style="font-size:19px">Onboarding</text></g>
<g id="note-main-pages"><rect class="t" x="1248" y="154.500" width="246" height="44"/><text x="1371" y="176" class="n" style="font-size:18px">main pages</text></g>
<g id="note-icons"><rect class="t" x="1466.600" y="774" width="45.400" height="59.600"/><text x="1489" y="787" class="n">icons to</text><text x="1489" y="798" class="n">show the</text><text x="1489" y="809.500" class="n">playlist</text><text x="1489" y="820.400" class="n">platform</text></g>
<g id="note-forum"><rect class="t" x="1471" y="1324.500" width="97" height="70.300"/><text x="1519" y="1336.600" class="n">in the forum, participants</text><text x="1519" y="1348" class="n">can reply with songs to</text><text x="1519" y="1359" class="n">share (there will be an</text><text x="1519" y="1370.600" class="n">option to play the song</text><text x="1519" y="1382" class="n">listed to hear songs quickly)</text></g>
<g id="note-edit"><rect class="t" x="1187" y="1672.600" width="84.600" height="64.400"/><text x="1229.600" y="1681.800" class="n">with the edit icon, users</text><text x="1229.600" y="1693" class="n">can customize their</text><text x="1229.600" y="1704.700" class="n">favorite songs/artists to</text><text x="1229.600" y="1715.600" class="n">display on their profile</text><text x="1229.600" y="1727" class="n">for friends to see</text></g>
<g id="note-gif"><rect class="t" x="1749" y="1782" width="85" height="65"/><text x="1791.700" y="1791.400" class="n">users will be able to</text><text x="1791.700" y="1803" class="n">upload a GIF (it would</text><text x="1791.700" y="1814" class="n">move when user is</text><text x="1791.700" y="1825" class="n">DJing, thumbs up, or</text><text x="1791.700" y="1837" class="n">dislike).</text></g>
<g id="note-hyperlink"><rect class="t" x="1925" y="338" width="67" height="51"/><text x="1958.500" y="346.700" class="n">*can also take user</text><text x="1958.500" y="358" class="n">to the stage</text><text x="1958.500" y="369.300" class="n">information page</text><text x="1958.500" y="380.700" class="n">through hyperlink</text></g>
<g id="note-option-1"><rect class="t" x="2242.600" y="267" width="59.400" height="59"/><text x="2272" y="291" class="n">option 1: request</text><text x="2272" y="302.300" class="n">invite to stage</text></g>
<g id="note-option-2"><rect class="t" x="2245.700" y="704" width="59.300" height="58.700"/><text x="2275" y="728" class="n">option 2: join</text><text x="2275" y="739.300" class="n">stage with code</text></g>
<g id="note-option-3"><rect class="t" x="2858" y="460" width="60" height="59"/><text x="2887.700" y="478" class="n">also for option</text><text x="2887.700" y="490" class="n">3: see stage</text><text x="2887.700" y="500.700" class="n">information</text></g>
<g id="note-addon"><rect class="t" x="2812.600" y="833" width="65.900" height="51"/><text x="2845.600" y="841.300" class="n">add-on feature:</text><text x="2845.600" y="853" class="n">make stage</text><text x="2845.600" y="864" class="n">backgrounds</text><text x="2845.600" y="875.300" class="n">unlockable</text></g>
<g id="note-friend"><rect class="t" x="3271.700" y="1077" width="65.300" height="51"/><text x="3304" y="1091.300" class="n">add a way to add a</text><text x="3304" y="1102.700" class="n">friend by looking</text><text x="3304" y="1114" class="n">on profile</text></g>
</svg>
